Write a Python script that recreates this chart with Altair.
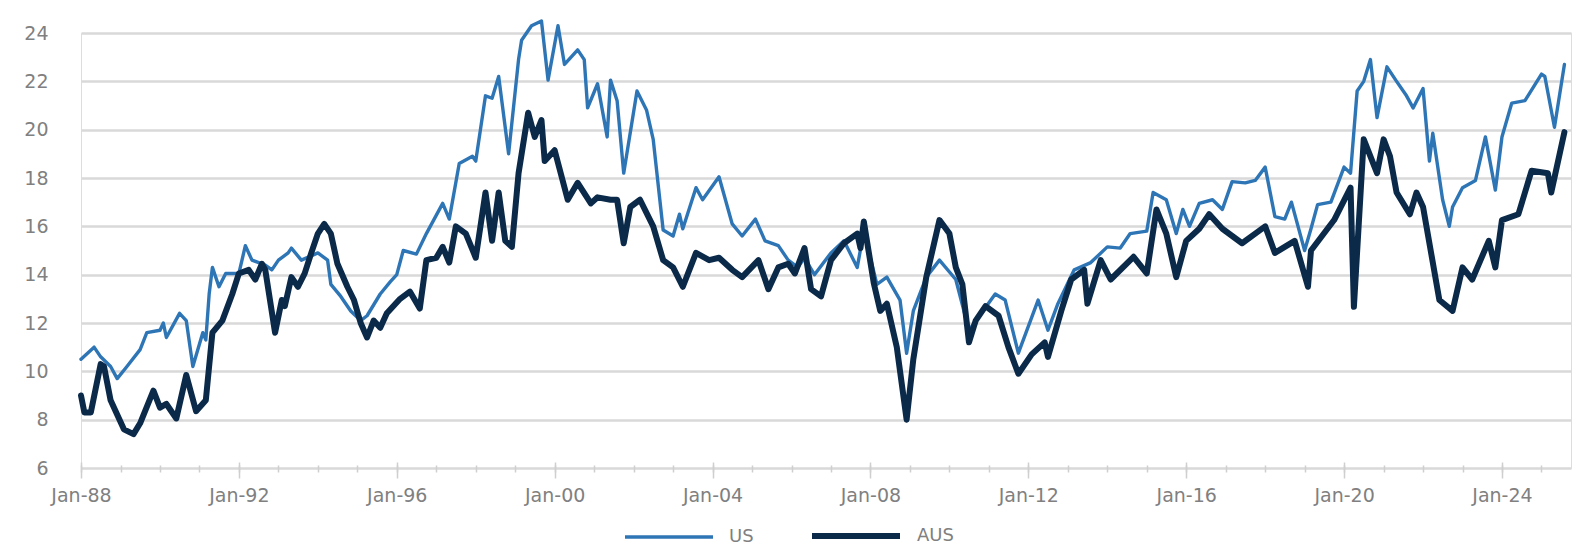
import altair as alt
import pandas as pd

# ---- data (monthly points, key turning points) ----
us_dates = [
    "1988-01", "1988-05", "1988-07", "1988-10", "1988-12", "1989-03", "1989-07", "1989-09",
    "1990-01", "1990-02", "1990-03", "1990-07", "1990-09", "1990-11", "1991-02", "1991-03",
    "1991-04", "1991-05", "1991-07", "1991-09", "1992-01", "1992-03", "1992-05", "1992-09",
    "1992-11", "1993-01", "1993-04", "1993-05", "1993-08", "1994-01", "1994-04", "1994-05",
    "1994-08", "1994-11", "1995-02", "1995-04", "1995-08", "1995-11", "1996-01", "1996-03",
    "1996-07", "1996-10", "1997-03", "1997-05", "1997-08", "1997-12", "1998-01", "1998-04",
    "1998-06", "1998-08", "1998-11", "1999-02", "1999-03", "1999-06", "1999-09", "1999-11",
    "2000-02", "2000-04", "2000-08", "2000-10", "2000-11", "2001-02", "2001-05", "2001-06",
    "2001-08", "2001-10", "2002-02", "2002-05", "2002-07", "2002-10", "2003-01", "2003-03",
    "2003-04", "2003-08", "2003-10", "2004-03", "2004-07", "2004-10", "2005-02", "2005-05",
    "2005-09", "2005-12", "2006-03", "2006-05", "2006-08", "2007-01", "2007-05", "2007-09",
    "2007-11", "2008-03", "2008-06", "2008-10", "2008-12", "2009-02", "2009-06", "2009-10",
    "2010-03", "2010-07", "2011-03", "2011-06", "2011-10", "2012-04", "2012-07", "2012-10",
    "2013-03", "2013-08", "2014-01", "2014-05", "2014-08", "2015-01", "2015-03", "2015-07",
    "2015-10", "2015-12", "2016-02", "2016-05", "2016-09", "2016-12", "2017-03", "2017-07",
    "2017-10", "2018-01", "2018-04", "2018-07", "2018-09", "2019-01", "2019-03", "2019-05",
    "2019-09", "2020-01", "2020-03", "2020-05", "2020-07", "2020-09", "2020-11", "2021-02",
    "2021-05", "2021-08", "2021-10", "2022-01", "2022-03", "2022-04", "2022-07", "2022-09",
    "2022-10", "2023-01", "2023-05", "2023-08", "2023-11", "2024-01", "2024-04", "2024-08",
    "2025-01", "2025-02", "2025-05", "2025-08",
]
us_values = [
    10.5, 11.0, 10.6, 10.2, 9.7, 10.2, 10.9, 11.6,
    11.7, 12.0, 11.4, 12.4, 12.1, 10.2, 11.6, 11.3,
    13.2, 14.3, 13.5, 14.05, 14.05, 15.2, 14.6, 14.4,
    14.2, 14.6, 14.9, 15.1, 14.6, 14.9, 14.6, 13.6,
    13.1, 12.5, 12.1, 12.3, 13.2, 13.7, 14.0, 15.0,
    14.85, 15.7, 16.95, 16.3, 18.6, 18.9, 18.7, 21.4,
    21.3, 22.2, 19.0, 22.9, 23.7, 24.3, 24.5, 22.05,
    24.3, 22.7, 23.3, 22.9, 20.9, 21.9, 19.7, 22.05,
    21.2, 18.2, 21.6, 20.8, 19.6, 15.85, 15.6, 16.5,
    15.9, 17.6, 17.1, 18.05, 16.1, 15.6, 16.3, 15.4,
    15.2, 14.6, 14.3, 14.7, 14.0, 14.9, 15.4, 14.3,
    15.8, 13.6, 13.9, 12.95, 10.75, 12.5, 13.9, 14.6,
    13.8, 11.7, 13.2, 12.95, 10.75, 12.95, 11.7, 12.8,
    14.2, 14.5, 15.15, 15.1, 15.7, 15.8, 17.4, 17.1,
    15.7, 16.7, 16.0, 16.95, 17.1, 16.7, 17.85, 17.8,
    17.9, 18.45, 16.4, 16.3, 17.0, 15.0, 15.9, 16.9,
    17.0, 18.45, 18.2, 21.6, 22.0, 22.9, 20.5, 22.6,
    22.0, 21.4, 20.9, 21.7, 18.7, 19.85, 17.1, 16.0,
    16.8, 17.6, 17.9, 19.7, 17.5, 19.7, 21.1, 21.2,
    22.3, 22.2, 20.1, 22.7,
]

aus_dates = [
    "1988-01", "1988-02", "1988-04", "1988-07", "1988-08", "1988-10", "1989-02", "1989-05",
    "1989-07", "1989-11", "1990-01", "1990-03", "1990-06", "1990-09", "1990-12", "1991-03",
    "1991-05", "1991-08", "1991-11", "1992-01", "1992-04", "1992-06", "1992-08", "1992-09",
    "1992-12", "1993-02", "1993-03", "1993-05", "1993-07", "1993-09", "1993-11", "1994-01",
    "1994-03", "1994-05", "1994-07", "1994-10", "1994-12", "1995-02", "1995-04", "1995-06",
    "1995-08", "1995-10", "1996-02", "1996-05", "1996-08", "1996-10", "1997-01", "1997-03",
    "1997-05", "1997-07", "1997-10", "1998-01", "1998-04", "1998-06", "1998-08", "1998-10",
    "1998-12", "1999-02", "1999-05", "1999-07", "1999-09", "1999-10", "2000-01", "2000-05",
    "2000-08", "2000-12", "2001-02", "2001-06", "2001-08", "2001-10", "2001-12", "2002-03",
    "2002-07", "2002-10", "2003-01", "2003-04", "2003-08", "2003-12", "2004-03", "2004-07",
    "2004-10", "2005-03", "2005-06", "2005-09", "2005-12", "2006-02", "2006-05", "2006-07",
    "2006-10", "2007-01", "2007-05", "2007-09", "2007-10", "2007-11", "2008-02", "2008-04",
    "2008-06", "2008-09", "2008-12", "2009-02", "2009-06", "2009-10", "2010-01", "2010-03",
    "2010-05", "2010-07", "2010-09", "2010-12", "2011-04", "2011-07", "2011-10", "2012-02",
    "2012-06", "2012-07", "2012-11", "2013-02", "2013-06", "2013-07", "2013-11", "2014-02",
    "2014-09", "2015-01", "2015-04", "2015-07", "2015-10", "2016-01", "2016-05", "2016-08",
    "2016-12", "2017-06", "2017-10", "2018-01", "2018-04", "2018-10", "2019-02", "2019-03",
    "2019-10", "2020-03", "2020-04", "2020-07", "2020-11", "2021-01", "2021-03", "2021-05",
    "2021-09", "2021-11", "2022-01", "2022-06", "2022-10", "2023-01", "2023-04", "2023-09",
    "2023-11", "2024-01", "2024-06", "2024-10", "2025-03", "2025-04", "2025-08",
]
aus_values = [
    9.0, 8.3, 8.3, 10.3, 10.2, 8.8, 7.6, 7.4,
    7.85, 9.2, 8.5, 8.65, 8.05, 9.85, 8.35, 8.8,
    11.6, 12.1, 13.2, 14.05, 14.2, 13.8, 14.45, 14.2,
    11.6, 12.95, 12.7, 13.9, 13.5, 14.05, 14.9, 15.7,
    16.1, 15.7, 14.45, 13.5, 12.95, 12.0, 11.4, 12.1,
    11.8, 12.4, 13.0, 13.3, 12.6, 14.6, 14.7, 15.15,
    14.5, 16.0, 15.7, 14.7, 17.4, 15.4, 17.4, 15.4,
    15.15, 18.2, 20.7, 19.7, 20.4, 18.7, 19.15, 17.1,
    17.8, 16.95, 17.2, 17.1, 17.1, 15.3, 16.8, 17.1,
    16.0, 14.6, 14.3, 13.5, 14.9, 14.6, 14.7, 14.2,
    13.9, 14.6, 13.4, 14.3, 14.45, 14.05, 15.1, 13.4,
    13.1, 14.6, 15.3, 15.7, 15.1, 16.2, 13.65, 12.5,
    12.8, 11.0, 8.0, 10.5, 13.9, 16.26, 15.7, 14.3,
    13.6, 11.2, 12.1, 12.7, 12.3, 11.0, 9.9, 10.7,
    11.2, 10.6, 12.5, 13.8, 14.2, 12.8, 14.6, 13.8,
    14.74, 14.05, 16.7, 15.7, 13.9, 15.4, 15.9, 16.5,
    15.9, 15.3, 15.7, 16.0, 14.9, 15.4, 13.5, 15.0,
    16.26, 17.6, 12.67, 19.6, 18.2, 19.6, 18.9, 17.4,
    16.5, 17.4, 16.8, 12.95, 12.5, 14.3, 13.8, 15.4,
    14.3, 16.26, 16.5, 18.3, 18.2, 17.4, 19.9,
]

series_names = ["US", "AUS"]
series_colors = ["#2e75b6", "#0b2a4a"]
series_widths = [3.4, 6.0]
y_ticks = list(range(6, 25, 2))
major_years = list(range(1988, 2025, 4))
minor_years = list(range(1988, 2026))

df = pd.concat(
    [
        pd.DataFrame({"date": [d + "-01" for d in us_dates], "value": us_values, "series": "US"}),
        pd.DataFrame({"date": [d + "-01" for d in aus_dates], "value": aus_values, "series": "AUS"}),
    ],
    ignore_index=True,
)

FONT = "DejaVu Sans"
GREY = "#808080"

x_scale = alt.Scale(
    domain=[alt.DateTime(year=1988, month=1, date=1), alt.DateTime(year=2025, month=10, date=1)]
)
y_scale = alt.Scale(domain=[6, 24], nice=False)

y_axis = alt.Axis(
    values=y_ticks, title=None, domain=False, ticks=False, grid=True,
    gridColor="#d9d9d9", gridWidth=2.5, labelPadding=33,
    labelFont=FONT, labelFontSize=19, labelColor=GREY,
)
major_axis = alt.Axis(
    values=[alt.DateTime(year=y, month=1, date=1) for y in major_years],
    format="%b-%y", title=None, domain=False, grid=False,
    tickSize=16, tickColor="#cfcfcf", tickWidth=1.5, offset=-6,
    labelPadding=8, labelFont=FONT, labelFontSize=19, labelColor=GREY,
    labelOverlap=False, labelFlush=False, labelAlign="center", orient="bottom",
)
minor_axis = alt.Axis(
    values=[alt.DateTime(year=y, month=1, date=1) for y in minor_years],
    title=None, domain=False, grid=False, labels=False,
    tickSize=7, tickColor="#cfcfcf", tickWidth=1.5, offset=-3, orient="bottom",
)

# long flat legend stroke: custom path scaled by sqrt(size)/2
legend = alt.Legend(
    title=None, orient="none", legendX=575, legendY=489, direction="horizontal",
    symbolType="M-4,0H4", symbolSize=484, labelFont=FONT, labelFontSize=18,
    labelColor=GREY, labelOffset=47, columnPadding=46, padding=0,
)

color_enc = alt.Color("series:N", scale=alt.Scale(domain=series_names, range=series_colors), legend=legend)
width_enc = alt.StrokeWidth("series:N", scale=alt.Scale(domain=series_names, range=series_widths), legend=legend)
y_enc = alt.Y("value:Q", scale=y_scale, axis=y_axis)

us_layer = (
    alt.Chart(df)
    .transform_filter(alt.datum.series == "US")
    .mark_line(strokeJoin="round", strokeCap="round")
    .encode(x=alt.X("date:T", scale=x_scale, axis=major_axis), y=y_enc, color=color_enc, strokeWidth=width_enc)
)
aus_layer = (
    alt.Chart(df)
    .transform_filter(alt.datum.series == "AUS")
    .mark_line(strokeJoin="round", strokeCap="round")
    .encode(x=alt.X("date:T", scale=x_scale, axis=minor_axis), y=y_enc, color=color_enc, strokeWidth=width_enc)
)

chart = (
    alt.layer(us_layer, aus_layer)
    .resolve_axis(x="independent")
    .properties(
        width=1490, height=435, autosize="none",
        padding={"left": 73, "top": 25, "right": 2, "bottom": 78},
    )
    .configure_view(stroke=None)
    .configure(background="white")
)

chart.save("out.html", embed_options={"renderer": "svg", "actions": False})
